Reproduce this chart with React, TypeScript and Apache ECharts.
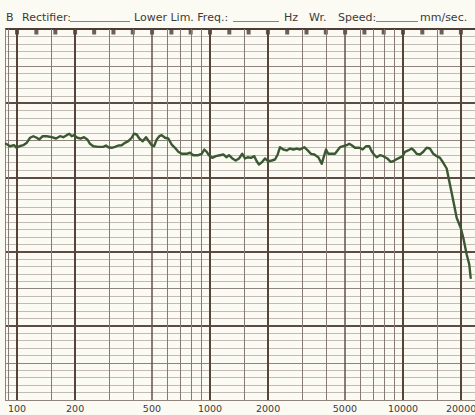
import { useEffect, useRef } from 'react';
import * as echarts from 'echarts';

// Measured response curve (frequency in Hz, level in dB on the paper's 50 dB scale)
const freqs = [
  87.7, 92.0, 96.5, 99.6, 102.8, 107.8, 112.3, 116.8, 121.5, 126.5, 130.5, 135.9, 142.5, 151.3, 159.3, 167.0,
  173.7, 180.9, 186.7, 192.1, 197.4, 205.4, 213.8, 222.4, 231.4, 238.9, 248.5, 263.8, 280.0, 289.2, 297.2, 309.6,
  322.0, 334.9, 348.7, 362.7, 377.3, 392.9, 403.8, 417.1, 430.2, 448.0, 466.0, 478.9, 498.8, 512.7, 529.5, 546.2,
  562.0, 584.5, 608.0, 633.2, 658.6, 685.1, 713.5, 757.4, 787.7, 819.4, 869.7, 905.7, 934.2, 961.4, 988.0, 1028,
  1070, 1127, 1172, 1220, 1254, 1305, 1359, 1413, 1470, 1518, 1568, 1631, 1696, 1746, 1794, 1866,
  1927, 2005, 2088, 2172, 2243, 2305, 2398, 2497, 2597, 2702, 2813, 2926, 3080, 3208, 3336, 3470,
  3640, 3790, 3896, 3990, 4101, 4442, 4715, 5108, 5269, 5422, 5638, 5935, 6181, 6429, 6688, 6882,
  7073, 7305, 7598, 7903, 8288, 8631, 8903, 9195, 9565, 9961, 10240, 10650, 11090, 11400, 11770, 12240,
  12740, 13260, 13800, 14350, 14950, 15550, 16170, 16840, 17370, 18090, 18970, 19900, 20530, 21380, 22050, 22420,
];
const levels = [
  34.53, 34.2, 34.34, 33.99, 34.2, 34.34, 34.66, 35.34, 35.55, 35.34, 35.11, 35.55, 35.55, 35.42, 35.24, 35.55,
  35.42, 35.69, 35.88, 35.55, 35.69, 35.34, 35.24, 35.42, 35.11, 34.53, 34.2, 34.12, 34.12, 34.3, 34.07, 33.99,
  34.12, 34.3, 34.34, 34.66, 34.88, 35.34, 35.88, 35.78, 35.24, 34.88, 35.42, 34.97, 34.34, 34.2, 35.11, 35.55,
  35.69, 35.34, 35.24, 34.43, 33.99, 33.45, 33.18, 33.18, 33.32, 32.99, 32.99, 33.18, 33.76, 33.45, 32.99, 32.64,
  32.86, 32.99, 33.09, 32.72, 32.99, 32.55, 32.28, 32.55, 33.18, 32.55, 32.72, 32.64, 32.86, 32.18, 31.74, 32.1,
  32.55, 32.18, 32.28, 32.41, 33.09, 34.07, 33.76, 33.63, 33.89, 33.76, 33.89, 33.76, 34.07, 33.63, 33.18, 33.09,
  32.72, 31.83, 32.86, 33.76, 33.18, 33.18, 34.07, 34.34, 34.53, 34.34, 33.99, 33.99, 33.76, 34.2, 34.2, 33.53,
  33.09, 32.72, 32.99, 32.86, 32.55, 32.1, 32.18, 32.41, 32.64, 32.86, 33.45, 33.63, 33.89, 33.63, 33.18, 33.09,
  33.45, 33.99, 33.89, 33.18, 32.86, 32.64, 31.97, 31.2, 29.49, 27.25, 24.56, 23.21, 21.86, 19.61, 18.26, 16.47,
];

// Paper grid (frequencies of printed vertical lines)
const vGridThick = [100, 200, 1000, 2000, 10000, 20000];
const vGridMedium = [500, 5000];
const vGridThin = [90, 150, 300, 400, 600, 700, 800, 900, 1500, 3000, 4000, 6000, 7000, 8000, 9000, 15000];
const xTickLabels = [100, 200, 500, 1000, 2000, 5000, 10000, 20000];
// Small marks along the top edge (1/10-decade steps)
const topMarks = [
  100, 126, 158, 200, 251, 316, 398, 501, 631, 794, 1000, 1259, 1585, 1995, 2512, 3162, 3981, 5012, 6310, 7943,
  10000, 12589, 15849, 19953,
];
// Header texts
const headerTexts = ['B', 'Rectifier:', 'Lower Lim. Freq.:', 'Hz', 'Wr.', 'Speed:', 'mm/sec.'];

const X_MIN = 86.66;
const X_MAX = 23607;

const INK = '#3f3936';
const FONT = 'DejaVu Sans';

export default function App() {
  const ref = useRef<HTMLDivElement>(null);

  useEffect(() => {
    if (!ref.current) return;
    const chart = echarts.init(ref.current, null, { renderer: 'svg' });

    const thinV = { color: '#847a73', width: 1, type: 'solid' as const };
    const medV = { color: '#625249', width: 1.5, type: 'solid' as const };
    const thickV = { color: '#56443b', width: 2, type: 'solid' as const };

    const lineItem = (f: number, style: any) => {
      const labelled = xTickLabels.includes(f);
      return {
        xAxis: f,
        lineStyle: style,
        label: labelled
          ? {
              show: true,
              position: 'start',
              formatter: String(f),
              distance: 3,
              color: INK,
              fontSize: 9.5,
              fontFamily: FONT,
            }
          : { show: false },
      };
    };
    const markData = [
      ...vGridThin.map((f) => lineItem(f, thinV)),
      ...vGridMedium.map((f) => lineItem(f, medV)),
      ...vGridThick.map((f) => lineItem(f, thickV)),
    ];

    const headerX = [6, 22, 134, 284, 309, 338, 420];
    const underlines = [
      [70, 130],
      [233, 279],
      [376, 418],
    ];

    const yBase = {
      type: 'value' as const,
      min: 0,
      max: 50,
      position: 'left' as const,
      axisLabel: { show: false },
      axisTick: { show: false },
      axisLine: { show: false },
    };

    const option: any = {
      animation: false,
      backgroundColor: '#fbfbf4',
      grid: { left: 5, right: 0, top: 29, bottom: 15, containLabel: false, outerBoundsMode: 'none' },
      xAxis: {
        type: 'log',
        min: X_MIN,
        max: X_MAX,
        axisLabel: { show: false },
        axisTick: { show: false },
        axisLine: { show: false },
        splitLine: { show: false },
      },
      yAxis: [
        {
          ...yBase,
          interval: 1,
          axisLine: { show: true, lineStyle: { color: '#8a817a', width: 1 } },
          splitLine: { show: true, lineStyle: { color: '#c2bbb3', width: 1 } },
        },
        {
          ...yBase,
          interval: 5,
          splitLine: { show: true, lineStyle: { color: '#8e847c', width: 1 } },
        },
        {
          ...yBase,
          interval: 10,
          splitLine: {
            show: true,
            lineStyle: {
              color: ['rgba(0,0,0,0)', '#5e4c44', '#5e4c44', '#5e4c44', '#5e4c44', '#4e3d35'],
              width: 1.8,
            },
          },
        },
      ],
      graphic: [
        ...headerTexts.map((t, i) => ({
          type: 'text',
          x: headerX[i],
          y: 17,
          silent: true,
          style: {
            text: t,
            fill: INK,
            fontSize: 11,
            fontFamily: FONT,
            align: 'left',
            verticalAlign: 'middle',
          },
        })),
        ...underlines.map(([a, b]) => ({
          type: 'line',
          silent: true,
          shape: { x1: a, y1: 21.5, x2: b, y2: 21.5 },
          style: { stroke: '#6a6461', lineWidth: 0.8 },
        })),
      ],
      series: [
        {
          type: 'scatter',
          name: 'marks',
          silent: true,
          clip: false,
          z: 3,
          yAxisIndex: 0,
          symbol: 'rect',
          symbolSize: [4, 5],
          symbolOffset: [0, 3],
          itemStyle: { color: '#4a3830' },
          data: topMarks.map((f) => [f, 50]),
          markLine: {
            silent: true,
            symbol: ['none', 'none'],
            animation: false,
            data: markData,
          },
        },
        {
          type: 'line',
          name: 'response',
          z: 6,
          yAxisIndex: 0,
          showSymbol: false,
          symbol: 'none',
          clip: false,
          lineStyle: { color: '#3b5832', width: 2.4, join: 'round', cap: 'round' },
          data: freqs.map((f, i) => [f, levels[i]]),
        },
      ],
    };

    chart.setOption(option);
    return () => chart.dispose();
  }, []);

  return (
    <div
      ref={ref}
      style={{ position: 'absolute', left: 0, top: 0, width: 475, height: 415, background: '#fbfbf4' }}
    />
  );
}
